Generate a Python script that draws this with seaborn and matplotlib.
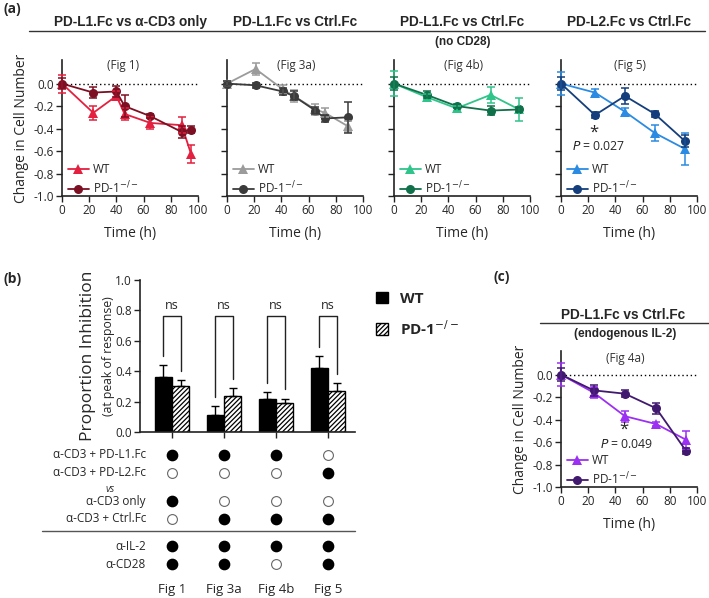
import numpy as np
import pandas as pd
import matplotlib.pyplot as plt
import matplotlib.transforms as mtransforms
from matplotlib.lines import Line2D
from matplotlib.patches import Patch
import seaborn as sns

# ---- line panels: change in cell number (mean, SEM) ----
fig1_t = [0, 23, 40, 46, 65, 88, 95]
fig1_wt = [0.0, -0.26, -0.11, -0.27, -0.35, -0.37, -0.63]
fig1_wt_err = [0.08, 0.06, 0.04, 0.05, 0.05, 0.07, 0.08]
fig1_ko = [0.0, -0.08, -0.07, -0.20, -0.29, -0.43, -0.41]
fig1_ko_err = [0.05, 0.05, 0.05, 0.10, 0.02, 0.05, 0.03]

fig3a_t = [0, 21, 41, 49, 65, 72, 89]
fig3a_wt = [0.0, 0.13, -0.05, -0.11, -0.23, -0.26, -0.38]
fig3a_wt_err = [0.02, 0.05, 0.04, 0.05, 0.05, 0.04, 0.05]
fig3a_ko = [0.0, -0.015, -0.07, -0.11, -0.24, -0.31, -0.30]
fig3a_ko_err = [0.02, 0.02, 0.03, 0.04, 0.03, 0.03, 0.14]

fig4b_t = [0, 24, 46, 71, 92]
fig4b_wt = [0.0, -0.12, -0.22, -0.10, -0.23]
fig4b_wt_err = [0.11, 0.03, 0.02, 0.07, 0.10]
fig4b_ko = [0.0, -0.10, -0.20, -0.24, -0.23]
fig4b_ko_err = [0.06, 0.03, 0.02, 0.04, 0.02]

fig5_t = [0, 25, 47, 69, 91]
fig5_wt = [0.0, -0.08, -0.25, -0.44, -0.58]
fig5_wt_err = [0.10, 0.03, 0.03, 0.07, 0.14]
fig5_ko = [0.0, -0.28, -0.11, -0.27, -0.51]
fig5_ko_err = [0.06, 0.03, 0.07, 0.03, 0.05]

fig4a_t = [0, 24, 47, 70, 92]
fig4a_wt = [0.0, -0.16, -0.37, -0.44, -0.58]
fig4a_wt_err = [0.10, 0.05, 0.05, 0.02, 0.08]
fig4a_ko = [0.0, -0.14, -0.17, -0.30, -0.68]
fig4a_ko_err = [0.06, 0.05, 0.03, 0.05, 0.03]

# ---- panel (b): proportion inhibition at peak ----
figs = ['Fig 1', 'Fig 3a', 'Fig 4b', 'Fig 5']
wt_inh = [0.36, 0.11, 0.22, 0.42]
wt_inh_err = [0.08, 0.06, 0.04, 0.08]
ko_inh = [0.30, 0.24, 0.19, 0.27]
ko_inh_err = [0.04, 0.05, 0.03, 0.05]

cond_rows = ['α-CD3 + PD-L1.Fc', 'α-CD3 + PD-L2.Fc', 'α-CD3 only',
             'α-CD3 + Ctrl.Fc', 'α-IL-2', 'α-CD28']
cond_filled = [[1, 1, 1, 0],
               [0, 0, 0, 1],
               [1, 0, 0, 0],
               [0, 1, 1, 1],
               [1, 1, 1, 1],
               [1, 1, 0, 1]]

KO = 'PD-1$^{-/-}$'

sns.set_theme(style='ticks')
plt.rcParams['font.family'] = ['Open Sans', 'DejaVu Sans']
plt.rcParams['axes.unicode_minus'] = False
plt.rcParams['hatch.linewidth'] = 0.9

W, H = 709, 598
fig = plt.figure(figsize=(W / 100, H / 100), dpi=100)


def box(left, top, right, bottom):
    return [left / W, 1 - bottom / H, (right - left) / W, (bottom - top) / H]


title_font = dict(family=['Liberation Sans', 'DejaVu Sans'], weight='bold')


def line_panel(ax, t, wt, wt_err, ko, ko_err, c_wt, c_ko, tag, tag_x, tag_y, ylabel):
    df = pd.concat([
        pd.DataFrame({'time': t, 'change': wt, 'geno': 'WT'}),
        pd.DataFrame({'time': t, 'change': ko, 'geno': 'KO'}),
    ])
    sns.lineplot(data=df, x='time', y='change', hue='geno', style='geno',
                 markers={'WT': '^', 'KO': 'o'}, dashes=False,
                 palette={'WT': c_wt, 'KO': c_ko}, markersize=6.5,
                 markeredgewidth=0, linewidth=1.3, errorbar=None,
                 legend=False, ax=ax, clip_on=False, zorder=3)
    ax.errorbar(t, wt, yerr=wt_err, fmt='none', ecolor=c_wt, elinewidth=1.1,
                capsize=3, capthick=1.1, clip_on=False, zorder=3)
    ax.errorbar(t, ko, yerr=ko_err, fmt='none', ecolor=c_ko, elinewidth=1.1,
                capsize=3, capthick=1.1, clip_on=False, zorder=3)
    ax.axhline(0, color='black', lw=1, ls=(0, (1, 2)), zorder=1)
    ax.set_xlim(0, 100)
    ax.set_ylim(-1.0, 0.21)
    ax.set_xticks([0, 20, 40, 60, 80, 100])
    ax.set_yticks([-1.0, -0.8, -0.6, -0.4, -0.2, 0.0])
    ax.set_yticklabels(['-1.0', '-0.8', '-0.6', '-0.4', '-0.2', '0.0'])
    ax.tick_params(labelsize=8.5, length=4, width=1, pad=2, color='#222222')
    for s in ['top', 'right']:
        ax.spines[s].set_visible(False)
    for s in ['left', 'bottom']:
        ax.spines[s].set_linewidth(1.2)
        ax.spines[s].set_color('#222222')
    ax.set_xlabel('Time (h)', fontsize=10, labelpad=6)
    if ylabel:
        ax.set_ylabel('Change in Cell Number', fontsize=10, labelpad=3)
    else:
        ax.set_ylabel('')
        ax.set_yticklabels([])
    ax.text(tag_x, tag_y, tag, ha='center', va='center', fontsize=8.5, color='#333333')
    handles = [Line2D([], [], color=c_wt, marker='^', markersize=6.5, lw=1.3, markeredgewidth=0),
               Line2D([], [], color=c_ko, marker='o', markersize=6.5, lw=1.3, markeredgewidth=0)]
    ax.legend(handles, ['WT', KO], loc='lower left', bbox_to_anchor=(0.03, -0.02),
              frameon=False, fontsize=8.5, handlelength=1.7, handletextpad=0.4,
              labelspacing=0.3, borderaxespad=0.0, borderpad=0.2)


def star_p(ax, x_star, x_p, y_p, ptext):
    # asterisk sits right above the P-value text
    ax.text(x_p, y_p, ptext, ha='center', va='center', fontsize=8.8)
    ax.text(x_star, y_p + 0.055, '*', ha='center', va='bottom', fontsize=12)


# ---- panel (a) ----
ax1 = fig.add_axes(box(62, 60, 198, 196))
ax2 = fig.add_axes(box(227, 60, 363, 196))
ax3 = fig.add_axes(box(394, 60, 530, 196))
ax4 = fig.add_axes(box(561, 60, 697, 196))

line_panel(ax1, fig1_t, fig1_wt, fig1_wt_err, fig1_ko, fig1_ko_err,
           '#e3203f', '#7d0f22', '(Fig 1)', 45, 0.16, True)
line_panel(ax2, fig3a_t, fig3a_wt, fig3a_wt_err, fig3a_ko, fig3a_ko_err,
           '#9b9b9b', '#3b3b3b', '(Fig 3a)', 51, 0.16, False)
line_panel(ax3, fig4b_t, fig4b_wt, fig4b_wt_err, fig4b_ko, fig4b_ko_err,
           '#2fc48a', '#10704a', '(Fig 4b)', 51, 0.16, False)
line_panel(ax4, fig5_t, fig5_wt, fig5_wt_err, fig5_ko, fig5_ko_err,
           '#2b8be2', '#143f7c', '(Fig 5)', 51, 0.16, False)
star_p(ax4, 24, 28, -0.56, '$P$ = 0.027')

titles_a = ['PD-L1.Fc vs α-CD3 only', 'PD-L1.Fc vs Ctrl.Fc',
            'PD-L1.Fc vs Ctrl.Fc', 'PD-L2.Fc vs Ctrl.Fc']
for ax, ttl in zip([ax1, ax2, ax3, ax4], titles_a):
    pos = ax.get_position()
    fig.text(pos.x0 + pos.width / 2, 1 - 22 / H, ttl, ha='center', va='center',
             fontsize=9.8, **title_font)
fig.text(463 / W, 1 - 42 / H, '(no CD28)', ha='center', va='center',
         fontsize=8.5, **title_font)
fig.add_artist(Line2D([29 / W, 705 / W], [1 - 31 / H, 1 - 31 / H],
                      color='#333333', lw=1))
fig.text(4 / W, 1 - 9 / H, '(a)', ha='left', va='center', fontsize=10,
         fontweight='bold')

# ---- panel (c) ----
axc = fig.add_axes(box(561, 351, 697, 487))
line_panel(axc, fig4a_t, fig4a_wt, fig4a_wt_err, fig4a_ko, fig4a_ko_err,
           '#9b30f2', '#41196f', '(Fig 4a)', 47, 0.14, True)
star_p(axc, 46, 48, -0.62, '$P$ = 0.049')
fig.text(623 / W, 1 - 315 / H, 'PD-L1.Fc vs Ctrl.Fc', ha='center', va='center',
         fontsize=9.8, **title_font)
fig.text(625 / W, 1 - 334 / H, '(endogenous IL-2)', ha='center', va='center',
         fontsize=8.5, **title_font)
fig.add_artist(Line2D([540 / W, 709 / W], [1 - 323 / H, 1 - 323 / H],
                      color='#333333', lw=1))
fig.text(494 / W, 1 - 277 / H, '(c)', ha='left', va='center', fontsize=10,
         fontweight='bold')

# ---- panel (b) ----
axb = fig.add_axes(box(140, 280, 355, 432))
dfb = pd.concat([
    pd.DataFrame({'fig': figs, 'value': wt_inh, 'geno': 'WT'}),
    pd.DataFrame({'fig': figs, 'value': ko_inh, 'geno': 'KO'}),
])
sns.barplot(data=dfb, x='fig', y='value', hue='geno',
            palette={'WT': 'black', 'KO': 'white'}, edgecolor='black',
            linewidth=1, width=0.67, gap=0.04, errorbar=None, legend=False,
            ax=axb)
for p in axb.containers[1]:
    p.set_hatch('///////')

xs_wt = [p.get_x() + p.get_width() / 2 for p in axb.containers[0]]
xs_ko = [p.get_x() + p.get_width() / 2 for p in axb.containers[1]]
axb.errorbar(xs_wt, wt_inh, yerr=[np.zeros(4), wt_inh_err], fmt='none',
             ecolor='black', elinewidth=1, capsize=3, capthick=1)
axb.errorbar(xs_ko, ko_inh, yerr=[np.zeros(4), ko_inh_err], fmt='none',
             ecolor='black', elinewidth=1, capsize=3, capthick=1)

top = 0.76
for i in range(4):
    lw_ = wt_inh[i] + wt_inh_err[i] + 0.06
    lk_ = ko_inh[i] + ko_inh_err[i] + 0.06
    axb.plot([xs_wt[i], xs_wt[i], xs_ko[i], xs_ko[i]], [lw_, top, top, lk_],
             color='#222222', lw=1)
    axb.text(i, top + 0.03, 'ns', ha='center', va='bottom', fontsize=9)

axb.set_xlim(-0.615, 3.52)
axb.set_ylim(0, 1.0)
axb.set_yticks([0, 0.2, 0.4, 0.6, 0.8, 1.0])
axb.set_yticklabels(['0.0', '0.2', '0.4', '0.6', '0.8', '1.0'])
axb.set_xticks(range(4))
axb.set_xticklabels([])
axb.set_xlabel('')
axb.set_ylabel('')
axb.tick_params(labelsize=8.5, length=4, width=1, pad=2, color='#222222')
for s in ['top', 'right']:
    axb.spines[s].set_visible(False)
for s in ['left', 'bottom']:
    axb.spines[s].set_linewidth(1.2)
    axb.spines[s].set_color('#222222')
fig.text(88 / W, 1 - 356 / H, 'Proportion Inhibition', rotation=90,
         ha='center', va='center', fontsize=12.5)
fig.text(108 / W, 1 - 356 / H, '(at peak of response)', rotation=90,
         ha='center', va='center', fontsize=8.8)

axb.legend([Patch(facecolor='black', edgecolor='black'),
            Patch(facecolor='white', edgecolor='black', hatch='///////')],
           ['WT', KO], loc='upper left', bbox_to_anchor=(362 / W, 1 - 278 / H),
           bbox_transform=fig.transFigure, frameon=False,
           prop={'weight': 'bold', 'size': 11}, handlelength=0.8,
           handleheight=0.8, handletextpad=0.8, labelspacing=0.85)

# condition table under the bars
trans = mtransforms.blended_transform_factory(axb.transData, fig.transFigure)
row_y = [455, 473, 501, 519, 546, 564]
for r, (label, yy) in enumerate(zip(cond_rows, row_y)):
    fig.text(146 / W, 1 - yy / H, label, ha='right', va='center', fontsize=8.5)
    for j in range(4):
        if cond_filled[r][j]:
            axb.scatter(j, 1 - yy / H, s=55, color='black', transform=trans,
                        clip_on=False, zorder=5)
        else:
            axb.scatter(j, 1 - yy / H, s=50, facecolor='white', edgecolor='#666666',
                        linewidth=0.8, transform=trans, clip_on=False, zorder=5)
fig.text(110 / W, 1 - 489 / H, 'vs', ha='center', va='center', fontsize=7.5,
         style='italic', color='#333333')
fig.add_artist(Line2D([42 / W, 355 / W], [1 - 531 / H, 1 - 531 / H],
                      color='#555555', lw=1))
for j, f in enumerate(figs):
    axb.text(j, 1 - 589 / H, f, transform=trans, ha='center', va='center',
             fontsize=9.5)
fig.text(4 / W, 1 - 279 / H, '(b)', ha='left', va='center', fontsize=10,
         fontweight='bold')

fig.savefig('out.png', dpi=100)
